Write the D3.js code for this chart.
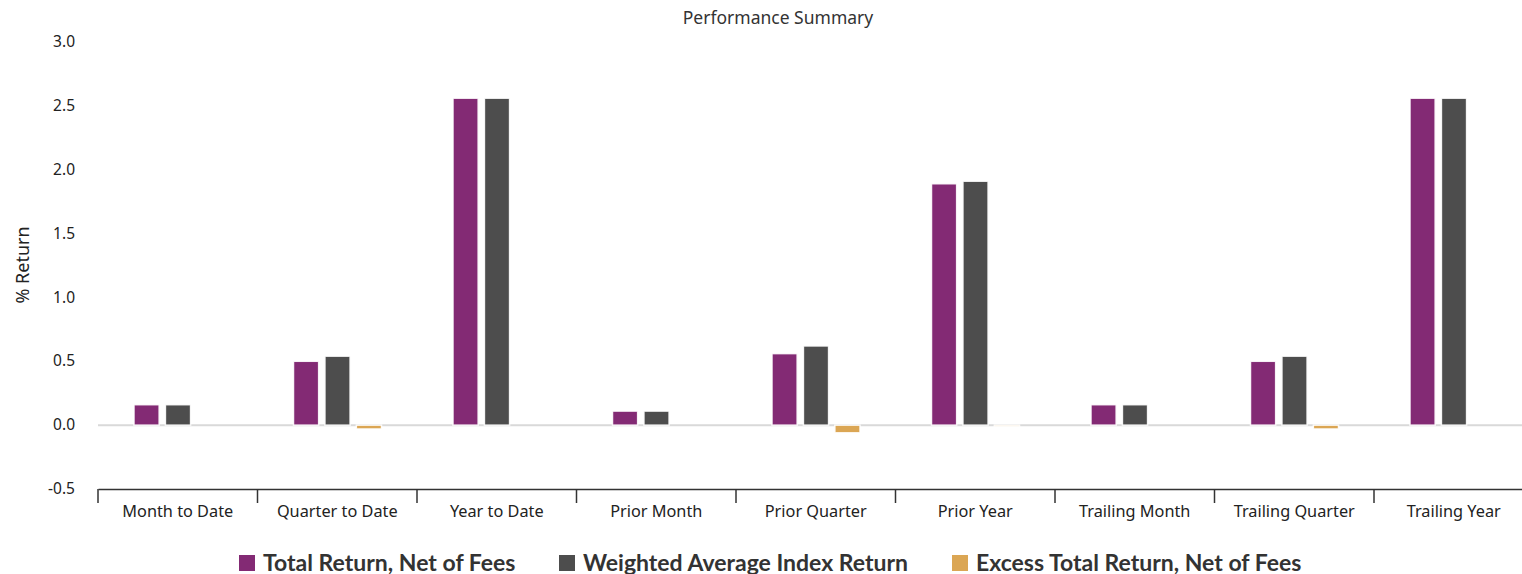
<!DOCTYPE html>
<html><head><meta charset="utf-8">
<script src="https://cdn.jsdelivr.net/npm/d3@7"></script>
<style>
html,body{margin:0;padding:0;background:#fff;}
svg{display:block;}
</style></head>
<body>
<svg id="chart" width="1522" height="574"></svg>
<script>
const categories = ["Month to Date","Quarter to Date","Year to Date","Prior Month","Prior Quarter","Prior Year","Trailing Month","Trailing Quarter","Trailing Year"];
const seriesNames = ["Total Return, Net of Fees","Weighted Average Index Return","Excess Total Return, Net of Fees"];
const totalReturn = [0.16, 0.50, 2.56, 0.11, 0.56, 1.89, 0.16, 0.50, 2.56];
const indexReturn = [0.16, 0.54, 2.56, 0.11, 0.62, 1.91, 0.16, 0.54, 2.56];
const excessReturn = [0.00, -0.03, 0.00, 0.00, -0.06, -0.01, 0.00, -0.03, 0.00];
const yTicks = [-0.5, 0.0, 0.5, 1.0, 1.5, 2.0, 2.5, 3.0];
const colors = ["#832a74", "#4d4d4d", "#dba654"];

(function () {
const svg = d3.select("#chart");
const mLeft = 98, mRight = 1533.5, mTop = 42, mBottom = 489;
const font = "'Noto Sans', 'Open Sans', sans-serif";

const x0 = d3.scaleBand().domain(categories).range([mLeft, mRight]);
const x1 = d3.scaleBand().domain(seriesNames).range([36, 124]).paddingInner(0.2);
const y = d3.scaleLinear().domain([-0.5, 3.0]).range([mBottom, mTop]);

const values = [totalReturn, indexReturn, excessReturn];

// title
svg.append("text").attr("x", 778).attr("y", 24).attr("text-anchor", "middle")
  .attr("font-family", font).attr("font-size", 17.5).attr("fill", "#333").text("Performance Summary");

// y axis title
svg.append("text").attr("transform", "translate(29,265) rotate(-90)").attr("text-anchor", "middle")
  .attr("font-family", font).attr("font-size", 18).attr("fill", "#222").text("% Return");

// y axis
const yAxis = svg.append("g").attr("transform", `translate(${mLeft - 23},0)`)
  .call(d3.axisLeft(y).tickValues(yTicks).tickFormat(d => d.toFixed(1)).tickSize(0).tickPadding(0));
yAxis.select(".domain").remove();
yAxis.selectAll("text").attr("font-family", font).attr("font-size", 15.5).attr("fill", "#222").attr("dy", "0.3em");

// zero line
svg.append("line").attr("x1", mLeft).attr("x2", 1522).attr("y1", y(0)).attr("y2", y(0))
  .attr("stroke", "#d9d9d9").attr("stroke-width", 2);

// bars
const items = [];
categories.forEach((c, i) => seriesNames.forEach((s, j) => {
  if (values[j][i] !== 0) items.push({c, s, j, v: values[j][i]});
}));
svg.append("g").selectAll("rect").data(items).join("rect")
  .attr("x", d => x0(d.c) + x1(d.s))
  .attr("width", x1.bandwidth())
  .attr("y", d => y(Math.max(0, d.v)))
  .attr("height", d => Math.abs(y(d.v) - y(0)))
  .attr("fill", d => colors[d.j])
  .attr("stroke", "#fff").attr("stroke-opacity", 0.9).attr("stroke-width", 1.5);

// x axis
const xAxis = svg.append("g").attr("transform", `translate(0,${mBottom})`)
  .call(d3.axisBottom(x0).tickSize(0).tickPadding(0));
xAxis.select(".domain").attr("stroke", "#333").attr("stroke-width", 1.5);
xAxis.selectAll("text").attr("font-family", font).attr("font-size", 16.3).attr("fill", "#222").attr("dy", "1.7em");
const bounds = categories.map(c => x0(c)).concat([mRight]);
svg.append("g").selectAll("line").data(bounds).join("line")
  .attr("x1", d => d).attr("x2", d => d).attr("y1", mBottom).attr("y2", mBottom + 14)
  .attr("stroke", "#333").attr("stroke-width", 1.5);

// legend
const legendX = [239, 559, 952];
const lg = svg.append("g").selectAll("g").data(seriesNames).join("g")
  .attr("transform", (d, i) => `translate(${legendX[i]},555)`);
lg.append("rect").attr("width", 16).attr("height", 16).attr("fill", (d, i) => colors[i]);
lg.append("text").attr("x", 24).attr("y", 15.5).attr("font-family", "Lato, 'Noto Sans', sans-serif")
  .attr("font-weight", "bold").attr("font-size", 23).attr("fill", "#333").text(d => d);
})();
</script>
</body></html>
